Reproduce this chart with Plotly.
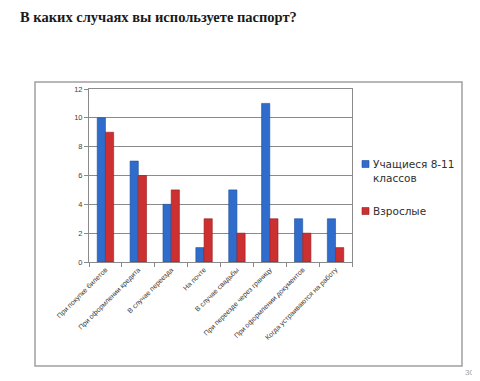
import plotly.graph_objects as go

categories = [
    "При покупке билетов",
    "При оформлении кредита",
    "В случае переезда",
    "На почте",
    "В случае свадьбы",
    "При переезде через границу",
    "При оформлении документов",
    "Когда устраиваются на работу",
]
students = [10, 7, 4, 1, 5, 11, 3, 3]
adults = [9, 6, 5, 3, 2, 3, 2, 1]
series_names = ["Учащиеся 8-11<br>классов", "Взрослые"]
series_colors = ["#2f6ccc", "#cc3030"]
series_edges = ["#1f4f9a", "#962020"]
y_ticks = [0, 2, 4, 6, 8, 10, 12]

fig = go.Figure()
for vals, name, col, edge in zip([students, adults], series_names, series_colors, series_edges):
    fig.add_trace(go.Bar(
        x=categories, y=vals, name=name,
        marker=dict(color=col, line=dict(color=edge, width=0.6)),
    ))

OFF = 8  # default page body margin
W, H = 480 - OFF, 381 - OFF
L, R, T, B = 89 - OFF, 352 - OFF, 89 - OFF, 262 - OFF

def px(x):
    return (x - OFF - L) / (R - L)

def py(y):
    return (B - (y - OFF)) / (B - T)

shapes = [dict(
    type="rect", xref="paper", yref="paper",
    x0=px(35), x1=px(462), y0=py(366), y1=py(82),
    line=dict(color="#a0a0a0", width=1.5), fillcolor="rgba(0,0,0,0)",
    layer="below",
)]
annotations = [
    dict(text="<b>В каких случаях вы используете паспорт?</b>",
         xref="paper", yref="paper", x=px(19), y=py(8),
         xanchor="left", yanchor="top", showarrow=False, borderpad=0,
         font=dict(family="Liberation Serif, Times New Roman, serif", size=14.5, color="#1a1a1a")),
    dict(text="30", xref="paper", yref="paper", x=px(476), y=py(372),
         xanchor="right", yanchor="middle", showarrow=False,
         font=dict(size=8, color="#a0a0a0")),
]

# legend drawn manually
legend_y = [164, 211]
for ly, name, col, edge in zip(legend_y, series_names, series_colors, series_edges):
    shapes.append(dict(type="rect", xref="paper", yref="paper",
                       x0=px(362), x1=px(369), y0=py(ly + 3.5), y1=py(ly - 3.5),
                       fillcolor=col, line=dict(color=edge, width=0.6)))
    annotations.append(dict(text=name, xref="paper", yref="paper",
                            x=px(371), y=py(ly - 8), xanchor="left", yanchor="top",
                            align="left", showarrow=False,
                            font=dict(size=10.5, color="#303030", family="DejaVu Sans, sans-serif")))

fig.update_layout(
    width=W, height=H,
    margin=dict(l=L, r=W - R, t=T, b=H - B, pad=0, autoexpand=False),
    paper_bgcolor="white", plot_bgcolor="white",
    barmode="group", bargap=0.5, bargroupgap=0,
    font=dict(family="Liberation Sans, Arial, sans-serif", color="#404040"),
    showlegend=False,
    xaxis=dict(
        showline=True, linecolor="#8a8a8a", linewidth=1, mirror=True,
        ticks="outside", ticklen=4, tickcolor="#8a8a8a", tickson="boundaries",
        tickangle=-45, tickfont=dict(size=7, color="#383838"),
        showgrid=False, automargin=False,
    ),
    yaxis=dict(
        range=[0, 12], tickvals=y_ticks,
        showline=True, linecolor="#8a8a8a", linewidth=1, mirror=True,
        ticks="outside", ticklen=4, tickcolor="#8a8a8a",
        tickfont=dict(size=7.5, color="#404040"),
        showgrid=True, gridcolor="#8a8a8a", gridwidth=1,
        zeroline=False, automargin=False,
    ),
    shapes=shapes,
    annotations=annotations,
)

fig.write_html("out.html")
